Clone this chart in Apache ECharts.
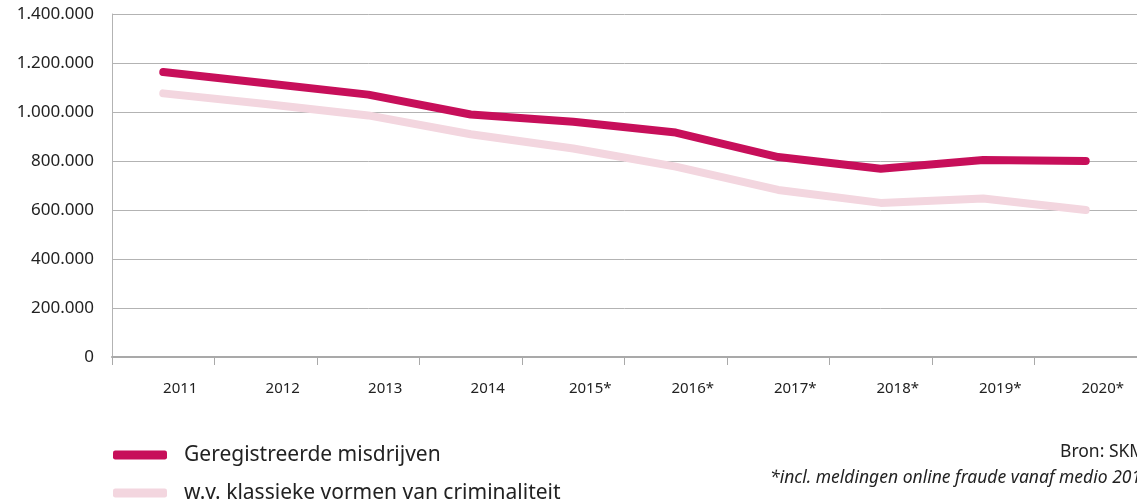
<!DOCTYPE html>
<html>
<head>
<meta charset="utf-8">
<script src="https://cdn.jsdelivr.net/npm/echarts@6/dist/echarts.min.js"></script>
<style>
  html, body { margin: 0; padding: 0; background: #fff; }
  #chart { width: 1137px; height: 499px; }
</style>
</head>
<body>
<div id="chart"></div>
<script>
// jaren (met * = incl. online fraude)
const years = ['2011', '2012', '2013', '2014', '2015*', '2016*', '2017*', '2018*', '2019*', '2020*']
const geregistreerd = [1163000, 1117000, 1071000, 990000, 960000, 916000, 816000, 768000, 804000, 800000]
const klassiek = [1076000, 1033000, 986000, 909000, 851000, 777000, 682000, 629000, 647000, 600000]
const yTicks = [0, 200000, 400000, 600000, 800000, 1000000, 1200000, 1400000]

const seriesNames = ['Geregistreerde misdrijven', 'w.v. klassieke vormen van criminaliteit']
const font = '"Noto Sans", "Open Sans", sans-serif'

const fmt = v => String(v).replace(/\B(?=(\d{3})+(?!\d))/g, '.')

const legendItem = (name, top) => ({
  orient: 'vertical',
  left: 108,
  top: top,
  icon: 'roundRect',
  itemWidth: 54,
  itemHeight: 9,
  textStyle: { fontSize: 21, color: '#222', lineHeight: 26, padding: [0, 0, 0, 12], fontFamily: font },
  data: [name]
})

const chart = echarts.init(document.getElementById('chart'))

chart.setOption({
  animation: false,
  textStyle: { fontFamily: font },
  grid: { left: 112, right: -3, top: 14, bottom: 142 },
  legend: [legendItem(seriesNames[0], 437), legendItem(seriesNames[1], 475)],
  xAxis: {
    type: 'category',
    data: years,
    boundaryGap: true,
    axisLine: { lineStyle: { color: '#a9a9a9', width: 2 } },
    axisTick: { show: true, length: 8, lineStyle: { color: '#a9a9a9', width: 1 } },
    axisLabel: { color: '#222', fontSize: 15, margin: 24, padding: [0, 0, 0, 34] }
  },
  yAxis: {
    type: 'value',
    min: yTicks[0],
    max: yTicks[yTicks.length - 1],
    interval: 200000,
    axisLine: { show: true, lineStyle: { color: '#b3b3b3', width: 1 } },
    axisTick: { show: false },
    splitLine: { lineStyle: { color: '#b3b3b3', width: 1 } },
    axisLabel: { color: '#222', fontSize: 17, margin: 18, formatter: fmt }
  },
  graphic: [
    {
      type: 'text', left: 1060, top: 443,
      style: { text: 'Bron: SKM', fontSize: 17.5, fill: '#222', fontFamily: font }
    },
    {
      type: 'text', left: 770, top: 469,
      style: { text: '*incl. meldingen online fraude vanaf medio 2015', fontSize: 17.5, fontStyle: 'italic', fill: '#222', fontFamily: font }
    }
  ],
  series: [
    {
      name: seriesNames[1],
      type: 'line',
      data: klassiek,
      symbol: 'none',
      color: '#f3d6df',
      lineStyle: { width: 8, color: '#f3d6df', cap: 'round', join: 'round' }
    },
    {
      name: seriesNames[0],
      type: 'line',
      data: geregistreerd,
      symbol: 'none',
      color: '#c70f5a',
      lineStyle: { width: 8, color: '#c70f5a', cap: 'round', join: 'round' }
    }
  ]
})
</script>
</body>
</html>
